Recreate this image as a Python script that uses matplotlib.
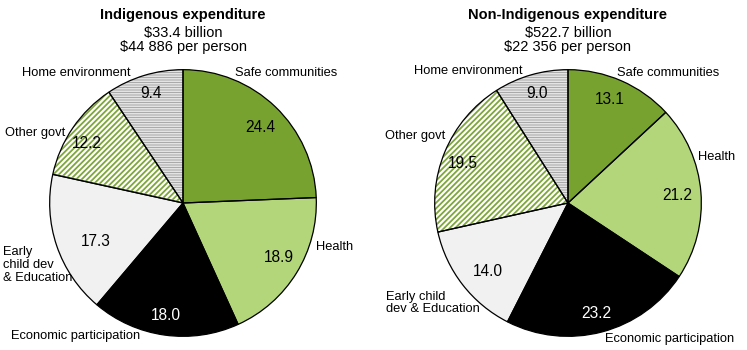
import matplotlib
matplotlib.use("Agg")
import matplotlib.pyplot as plt

plt.rcParams['font.family'] = ['Liberation Sans', 'DejaVu Sans']

categories = ["Safe communities", "Health", "Economic participation",
              "Early child dev & Education", "Other govt", "Home environment"]
indigenous = [24.4, 18.9, 18.0, 17.3, 12.2, 9.4]
non_indigenous = [13.1, 21.2, 23.2, 14.0, 19.5, 9.0]
titles = ["Indigenous expenditure", "Non-Indigenous expenditure"]
subtitles = ["$33.4 billion\n$44 886 per person", "$522.7 billion\n$22 356 per person"]

fills = ["#78a22f", "#b3d67a", "#000000", "#f1f1f1", "#ffffff", "#ffffff"]
hatch_cols = ["#78a22f", "#b3d67a", "#000000", "#f1f1f1", "#7ea63a", "#a8a8a8"]
hatches = [None, None, None, None, "//////", "----------"]
value_cols = ["black", "black", "white", "black", "black", "black"]

W, H = 747, 350
fig = plt.figure(figsize=(W / 100, H / 100), dpi=100)

def fx(px):
    return px / W

def fy(py):
    return 1 - py / H

R = 134
centers = [(183, 203), (568, 203)]

# label positions (pixel coords, top-left origin) and alignments
label_pos = [
    [
        ("Safe communities", 235, 73, "left"),
        ("Health", 316, 247, "left"),
        ("Economic participation", 11, 336, "left"),
        ("Early\nchild dev\n& Education", 3, 265, "left"),
        ("Other govt", 5, 133, "left"),
        ("Home environment", 131, 73, "right"),
    ],
    [
        ("Safe communities", 617, 73, "left"),
        ("Health", 698, 157, "left"),
        ("Economic participation", 605, 339, "left"),
        ("Early child\ndev & Education", 386, 303, "left"),
        ("Other govt", 385, 136, "left"),
        ("Home environment", 522, 71, "right"),
    ],
]
value_pos = [
    [(260, 128), (279, 257), (166, 316), (96, 241), (87, 143), (151, 93)],
    [(610, 100), (677, 195), (596, 314), (488, 272), (463, 163), (537, 93)],
]

for k, vals in enumerate([indigenous, non_indigenous]):
    cx, cy = centers[k]
    ax = fig.add_axes([fx(cx - R), fy(cy + R), 2 * R / W, 2 * R / H])
    wedges, _ = ax.pie(vals, colors=fills, startangle=90, counterclock=False,
                       radius=1, wedgeprops=dict(linewidth=0))
    for w, h, hc in zip(wedges, hatches, hatch_cols):
        if h:
            w.set_hatch(h)
            w.set_edgecolor(hc)
            if hasattr(w, "set_hatch_linewidth"):
                w.set_hatch_linewidth(1.3 if h.startswith("/") else 0.7)
    ax.pie(vals, colors=["none"] * len(vals), startangle=90, counterclock=False,
           radius=1, wedgeprops=dict(linewidth=0.9, edgecolor="black", fill=False))
    ax.set_xlim(-1.005, 1.005)
    ax.set_ylim(-1.005, 1.005)
    ax.set_axis_off()

    fig.text(fx(cx), fy(15), titles[k], ha="center", va="center",
             fontsize=10.5, fontweight="bold")
    fig.text(fx(cx), fy(40), subtitles[k], ha="center", va="center",
             fontsize=10.5, linespacing=1.05)

    for (txt, px, py, ha) in label_pos[k]:
        fig.text(fx(px), fy(py), txt, ha=ha, va="center", fontsize=9.3,
                 linespacing=1.1)
    for v, (px, py), c in zip(vals, value_pos[k], value_cols):
        fig.text(fx(px), fy(py), f"{v:.1f}", ha="center", va="center",
                 fontsize=11.2, color=c)

fig.savefig("out.png", dpi=100)
